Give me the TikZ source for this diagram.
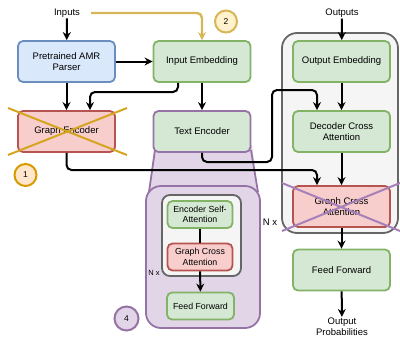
\documentclass[tikz,border=0pt]{standalone}
\usepackage{fontspec}
\setmainfont{Liberation Sans}
\usetikzlibrary{arrows.meta}
\definecolor{bluefill}{HTML}{DAE8FC}
\definecolor{bluedraw}{HTML}{6C8EBF}
\definecolor{greenfill}{HTML}{D5E8D4}
\definecolor{greendraw}{HTML}{82B366}
\definecolor{redfill}{HTML}{F8CECC}
\definecolor{reddraw}{HTML}{B85450}
\definecolor{purplefill}{HTML}{E1D5E7}
\definecolor{purpledraw}{HTML}{9673A6}
\definecolor{greyfill}{HTML}{F5F5F5}
\definecolor{greydraw}{HTML}{666666}
\definecolor{yellowfill}{HTML}{FFF2CC}
\definecolor{yellowdraw}{HTML}{D6B656}
\definecolor{orangefill}{HTML}{FFE6CC}
\definecolor{orangedraw}{HTML}{D79B00}
\definecolor{crossgold}{HTML}{D6A520}
\definecolor{crosspurple}{HTML}{A680B8}
\begin{document}
\begin{tikzpicture}[x=1pt,y=-1pt,
  box/.style={draw, rounded corners=5pt, line width=1.8pt, align=center,
    font=\fontsize{9.5}{11}\selectfont, inner sep=1pt},
  bigbox/.style={box, minimum width=97pt, minimum height=41pt},
  smallbox/.style={box, minimum width=65pt, minimum height=27pt, font=\fontsize{8.8}{10.5}\selectfont},
  bluebox/.style={fill=bluefill, draw=bluedraw},
  greenbox/.style={fill=greenfill, draw=greendraw},
  redbox/.style={fill=redfill, draw=reddraw},
  arr/.style={-{Stealth[length=8pt,width=8pt]}, line width=2pt, rounded corners=5pt},
  plain/.style={line width=2pt},
  lbl/.style={font=\fontsize{9.5}{11}\selectfont, inner sep=1pt, align=center},
  badge/.style={circle, line width=2pt, minimum size=22pt, inner sep=0pt, font=\fontsize{8.5}{9}\selectfont},
  crossline/.style={line width=2pt}
]
\useasboundingbox (0,0) rectangle (400,338);

% groups
\fill[purplefill] (155,145) -- (252,145) -- (258,195) -- (148,195) -- cycle;
\draw[purpledraw, line width=1.8pt] (155,150) -- (149,192);
\draw[purpledraw, line width=1.8pt] (251,150) -- (258,192);
\draw[purpledraw, fill=purplefill, line width=1.8pt, rounded corners=15pt] (146,186) rectangle (260,328);
\draw[greydraw, fill=greyfill, line width=1.8pt, rounded corners=15pt] (282,33) rectangle (398,233);
\draw[greydraw, fill=greyfill, line width=1.8pt, rounded corners=8pt] (162,195) rectangle (241,276);

% nodes
\node[lbl] (inputs) at (67,13) {Inputs};
\node[lbl] (outputs) at (342,13) {Outputs};
\node[bigbox, bluebox] (parser) at (66.5,61.5) {Pretrained AMR\\Parser};
\node[bigbox, greenbox] (inemb) at (202,61.5) {Input Embedding};
\node[bigbox, redbox] (genc) at (66.5,131.5) {Graph Encoder};
\node[bigbox, greenbox, draw=purpledraw] (tenc) at (202,131.5) {Text Encoder};
\node[bigbox, greenbox] (outemb) at (341.5,61.5) {Output Embedding};
\node[bigbox, greenbox] (dca) at (341.5,131.5) {Decoder Cross\\Attention};
\node[bigbox, redbox] (gca) at (341.5,206.5) {Graph Cross\\Attention};
\node[bigbox, greenbox] (ff) at (341.5,270) {Feed Forward};
\node[lbl] (outprob) at (342,327) {Output\\Probabilities};
\node[smallbox, greenbox] (esa) at (200,214.5) {Encoder Self-\\Attention};
\node[smallbox, redbox] (sgca) at (200,257) {Graph Cross\\Attention};
\node[smallbox, greenbox, minimum width=67pt] (sff) at (200.5,306) {Feed Forward};
\node[lbl, font=\fontsize{7.5}{9}\selectfont] (nx1) at (154,273) {N x};
\node[lbl] (nx2) at (270,222) {N x};
\node[badge, draw=yellowdraw, fill=yellowfill] (b2) at (226,21.5) {2};
\node[badge, draw=orangedraw, fill=orangefill] (b1) at (25.5,175) {1};
\node[badge, draw=purpledraw, fill=purplefill, minimum size=24pt] (b4) at (126.5,318.5) {4};

% connectors
\draw[arr] (inputs) -- (parser);
\coordinate (ys) at (91,13);
\draw[arr, line width=2.4pt, color=yellowdraw] (ys) -| (inemb.north);
\draw[arr] (parser) -- (inemb);
\draw[arr] (parser) -- (genc);
\draw[arr] (inemb.south -| 178,0) |- (90,92) -- (genc.north -| 90,0);
\draw[arr] (inemb) -- (tenc);
\draw[arr] (outputs) -- (outemb);
\draw[arr] (outemb) -- (dca);
\draw[arr] (tenc.south) |- (272,162) |- (317,90) -- (dca.north -| 317,0);
\draw[arr] (genc.south) |- (317,170) -- (gca.north -| 317,0);
\draw[arr] (dca) -- (gca);
\draw[arr] (gca) -- (ff);
\draw[arr] (ff) -- (outprob);
\draw[plain] (esa) -- (sgca);
\draw[arr] (sgca) -- (sff);

% crosses
\draw[crossline, crossgold] (8,108) -- (127,155);
\draw[crossline, crossgold] (8,155) -- (127,108);
\draw[crossline, crosspurple] (282,183) -- (400,231);
\draw[crossline, crosspurple] (282,231) -- (400,183);
\end{tikzpicture}
\end{document}
